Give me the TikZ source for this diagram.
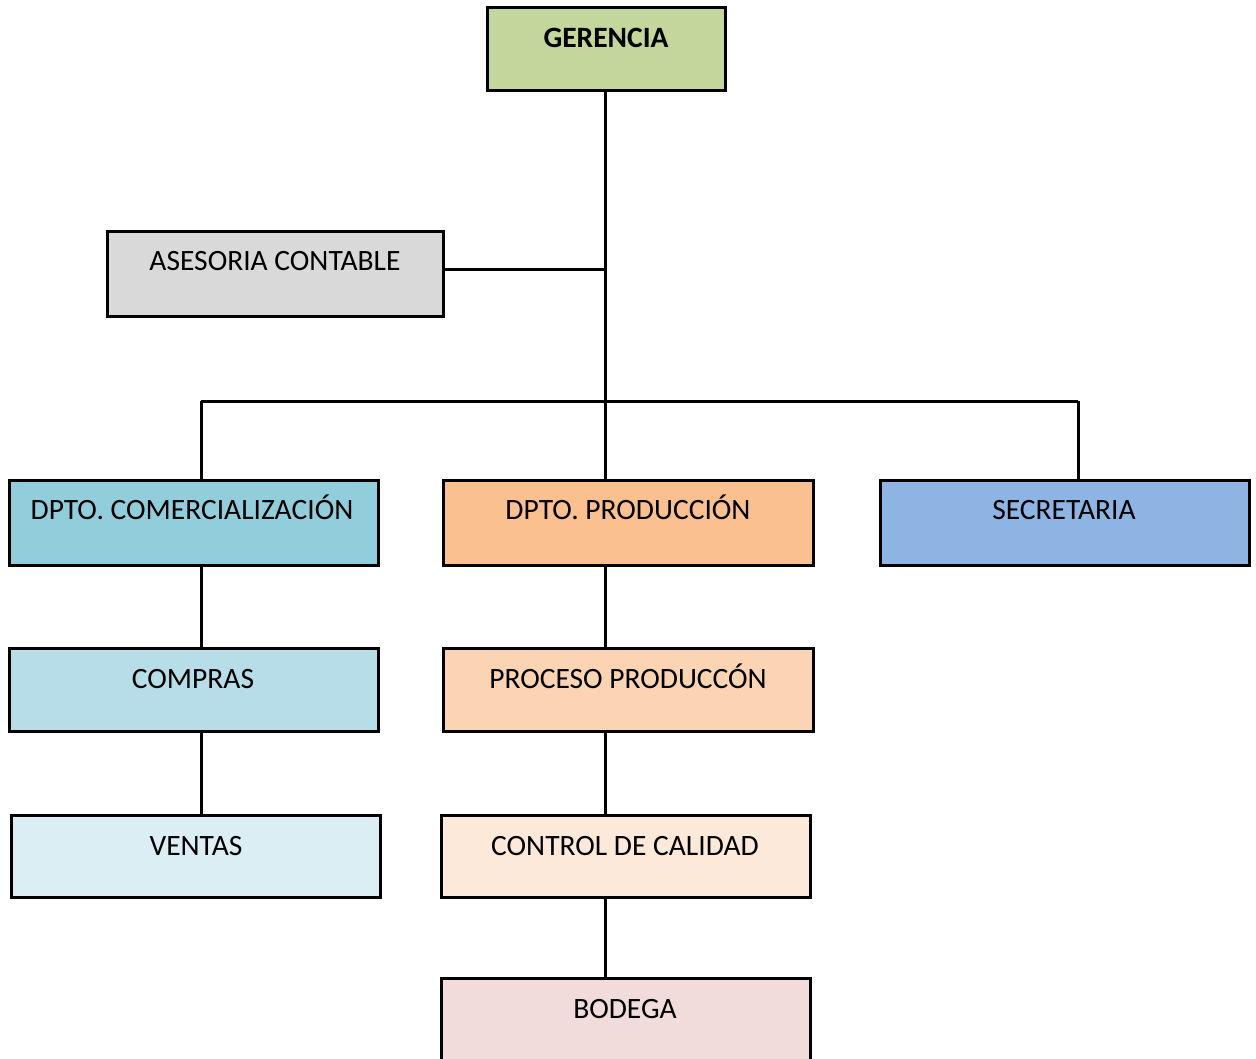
\documentclass[tikz,border=0pt]{standalone}
\usepackage{fontspec}
\setmainfont{Carlito}
\begin{document}
\begin{tikzpicture}[x=1pt,y=-1pt,
  box/.style={draw=black,line width=3pt,inner sep=0pt},
  lbl/.style={font=\fontsize{29.5}{34}\selectfont,inner sep=0pt,anchor=base},
  conn/.style={line width=3pt}]
\useasboundingbox (0,0) rectangle (1256,1058);
\clip (0,0) rectangle (1256,1058);
\definecolor{cger}{HTML}{C3D69B}
\definecolor{case}{HTML}{D9D9D9}
\definecolor{ccom}{HTML}{92CDDC}
\definecolor{cprod}{HTML}{FAC090}
\definecolor{csec}{HTML}{8EB4E3}
\definecolor{ccomp}{HTML}{B7DEE8}
\definecolor{cproc}{HTML}{FBD4B4}
\definecolor{cven}{HTML}{DBEEF3}
\definecolor{cctl}{HTML}{FDE9D9}
\definecolor{cbod}{HTML}{F2DCDB}
% boxes
\draw[box,fill=cger] (487,7) rectangle (725,90); \node (ger) at (606,48.5) [minimum width=238pt,minimum height=83pt] {};
\draw[box,fill=case] (107,231) rectangle (443,316); \node (ase) at (275,273.5) [minimum width=336pt,minimum height=85pt] {};
\draw[box,fill=ccom] (9,480) rectangle (378,565); \node (com) at (193.5,522.5) [minimum width=369pt,minimum height=85pt] {};
\draw[box,fill=cprod] (443,480) rectangle (813,565); \node (prod) at (628,522.5) [minimum width=370pt,minimum height=85pt] {};
\draw[box,fill=csec] (880,480) rectangle (1249,565); \node (sec) at (1064.5,522.5) [minimum width=369pt,minimum height=85pt] {};
\draw[box,fill=ccomp] (9,648) rectangle (378,731); \node (comp) at (193.5,689.5) [minimum width=369pt,minimum height=83pt] {};
\draw[box,fill=cproc] (443,648) rectangle (813,731); \node (proc) at (628,689.5) [minimum width=370pt,minimum height=83pt] {};
\draw[box,fill=cven] (11,815) rectangle (380,897); \node (ven) at (195.5,856) [minimum width=369pt,minimum height=82pt] {};
\draw[box,fill=cctl] (441,815) rectangle (810,897); \node (ctl) at (625.5,856) [minimum width=369pt,minimum height=82pt] {};
\draw[box,fill=cbod] (441,978) rectangle (810,1070); \node (bod) at (625.5,1024) [minimum width=369pt,minimum height=92pt] {};
% labels
\node[lbl,font=\fontsize{29.5}{34}\selectfont\bfseries] (tger) at (606,47.5) {GERENCIA};
\node[lbl] (tase) at (275,270.5) {ASESORIA CONTABLE};
\node[lbl] (tcom) at (192,519.5) {DPTO. COMERCIALIZACIÓN};
\node[lbl] (tprod) at (628,519.5) {DPTO. PRODUCCIÓN};
\node[lbl] (tsec) at (1064,519.5) {SECRETARIA};
\node[lbl] (tcomp) at (193,688.5) {COMPRAS};
\node[lbl] (tproc) at (628,688.5) {PROCESO PRODUCCÓN};
\node[lbl] (tven) at (196,855.5) {VENTAS};
\node[lbl] (tctl) at (625,855.5) {CONTROL DE CALIDAD};
\node[lbl] (tbod) at (625,1018.5) {BODEGA};
% connectors
\coordinate (trunk) at (605,90);
\coordinate (asej) at (605,269);
\coordinate (busL) at (201,401);
\coordinate (busR) at (1078,401);
\draw[conn] (trunk) -- (trunk |- prod.north);
\draw[conn] (ase.east |- asej) -- (asej);
\draw[conn] (busL) -- (busR);
\draw[conn] (busL) -- (busL |- com.north);
\draw[conn] (busR) -- (busR |- sec.north);
\draw[conn] (busL |- com.south) -- (busL |- comp.north);
\draw[conn] (busL |- comp.south) -- (busL |- ven.north);
\draw[conn] (trunk |- prod.south) -- (trunk |- proc.north);
\draw[conn] (trunk |- proc.south) -- (trunk |- ctl.north);
\draw[conn] (trunk |- ctl.south) -- (trunk |- bod.north);
\end{tikzpicture}
\end{document}
